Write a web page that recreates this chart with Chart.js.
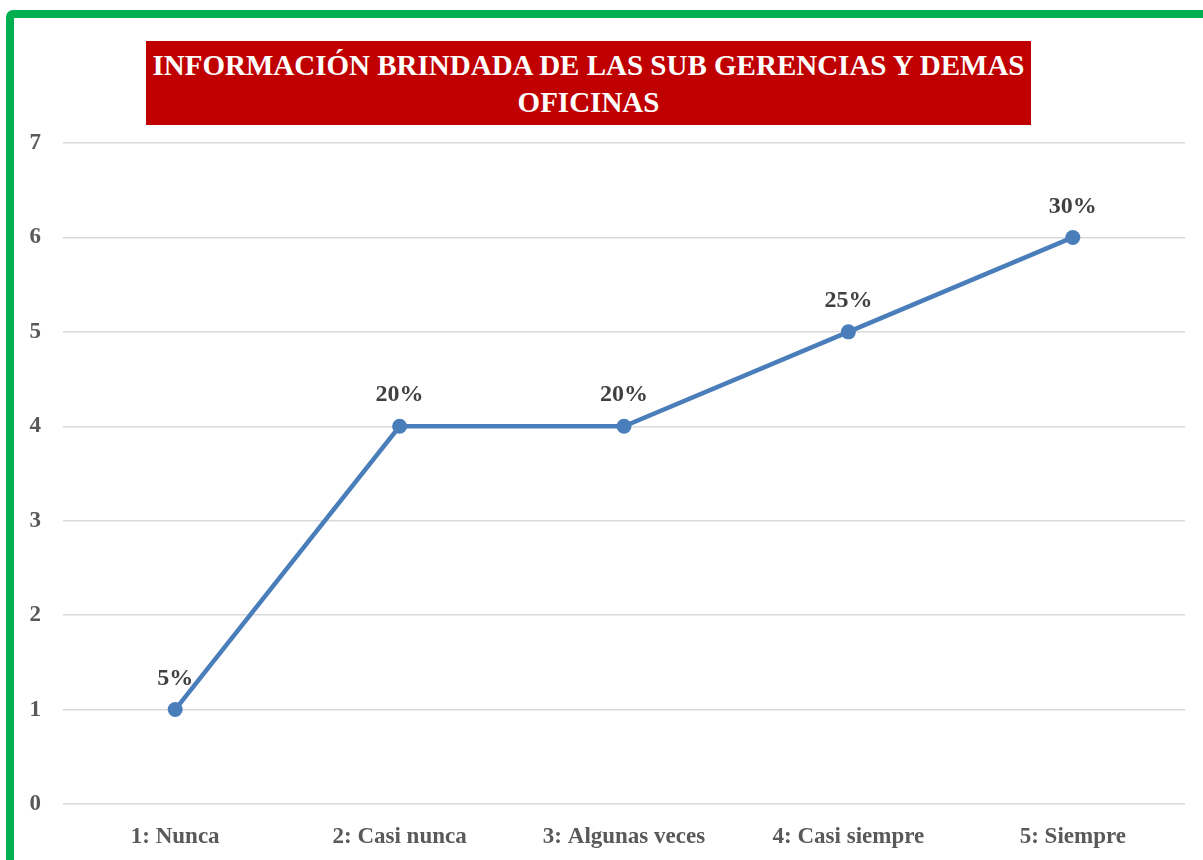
<!DOCTYPE html>
<html>
<head>
<meta charset="utf-8">
<script src="https://cdn.jsdelivr.net/npm/chart.js@4.4.1/dist/chart.umd.min.js"></script>
<style>
  body { margin: 0; background: #fff; width: 1203px; height: 860px; overflow: hidden; position: relative; }
  #frame { position: absolute; left: 6px; top: 10px; width: 1260px; height: 900px; border: 8px solid #00B050; border-radius: 7px; box-sizing: border-box; }
  #title { position: absolute; left: 146px; top: 41px; width: 885px; height: 84px; background: #C00000; color: #fff;
           font: bold 29px "Liberation Serif", serif; text-align: center; line-height: 37px; padding-top: 6px;
           box-sizing: border-box; white-space: nowrap; }
  canvas { position: absolute; left: 0; top: 0; }
</style>
</head>
<body>
<div id="frame"></div>
<canvas id="lineChart" width="1203" height="860"></canvas>
<div id="title">INFORMACIÓN BRINDADA DE LAS SUB GERENCIAS Y DEMAS<br>OFICINAS</div>
<script>
// Chart data
const categories = ["1: Nunca", "2: Casi nunca", "3: Algunas veces", "4: Casi siempre", "5: Siempre"];
const counts = [1, 4, 4, 5, 6];
const percentLabels = ["5%", "20%", "20%", "25%", "30%"];
const yTicks = [0, 1, 2, 3, 4, 5, 6, 7];

const FONT = "'Liberation Serif', serif";

// Small plugin to print the percentage above each point
const pointLabels = {
  id: "pointLabels",
  afterDatasetsDraw(chart) {
    const ctx = chart.ctx;
    const meta = chart.getDatasetMeta(0);
    ctx.save();
    ctx.font = "bold 24px " + FONT;
    ctx.fillStyle = "#404040";
    ctx.textAlign = "center";
    ctx.textBaseline = "middle";
    meta.data.forEach((pt, i) => {
      ctx.fillText(percentLabels[i], pt.x, pt.y - 31);
    });
    ctx.restore();
  }
};

new Chart(document.getElementById("lineChart").getContext("2d"), {
  type: "line",
  data: {
    labels: categories,
    datasets: [{
      data: counts,
      borderColor: "#4A7EBB",
      backgroundColor: "#4A7EBB",
      borderWidth: 4.5,
      pointRadius: 7.5,
      pointHoverRadius: 7.5,
      pointBackgroundColor: "#4A7EBB",
      pointBorderWidth: 0,
      tension: 0
    }]
  },
  options: {
    responsive: false,
    animation: false,
    layout: { padding: { top: 143, right: 18, bottom: 0, left: 0 } },
    plugins: { legend: { display: false }, tooltip: { enabled: false } },
    scales: {
      x: {
        offset: true,
        grid: { display: false, drawTicks: false },
        border: { display: false },
        ticks: { color: "#595959", font: { family: FONT, size: 23, weight: "bold" }, padding: 19, maxRotation: 0 },
        afterFit: (axis) => { axis.height = 56; }
      },
      y: {
        min: 0,
        max: 7,
        afterBuildTicks: (axis) => { axis.ticks = yTicks.map(v => ({ value: v })); },
        grid: { color: "#D9D9D9", lineWidth: 1.5, drawTicks: false },
        border: { display: false },
        ticks: { color: "#595959", font: { family: FONT, size: 23, weight: "bold" }, padding: 22 },
        afterFit: (axis) => { axis.width = 63; }
      }
    }
  },
  plugins: [pointLabels]
});
</script>
</body>
</html>
